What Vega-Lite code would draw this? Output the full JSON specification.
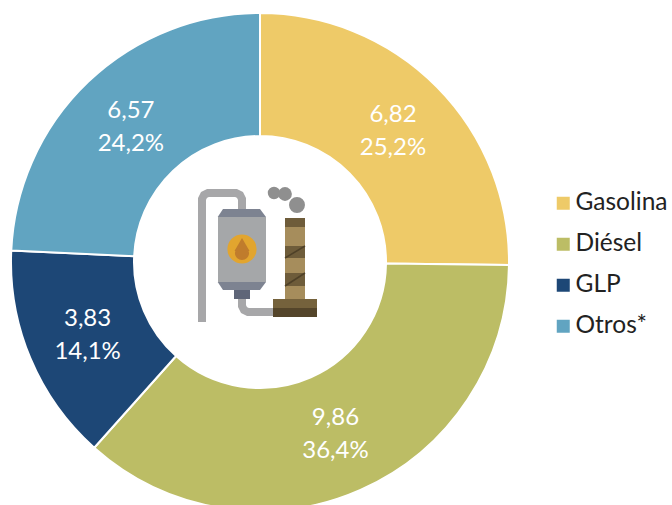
{"$schema":"https://vega.github.io/schema/vega-lite/v6.json","width":498,"height":498,"autosize":"none","padding":{"left":11,"top":13,"right":163,"bottom":0},"background":"white","config":{"view":{"stroke":null},"font":"Lato"},
"datasets":{"combustibles":[{"nombre":"Gasolina","orden":1,"valor":6.82,"etiqueta":"6,82\n25,2%"},{"nombre":"Diésel","orden":2,"valor":9.86,"etiqueta":"9,86\n36,4%"},{"nombre":"GLP","orden":3,"valor":3.83,"etiqueta":"3,83\n14,1%"},{"nombre":"Otros*","orden":4,"valor":6.57,"etiqueta":"6,57\n24,2%"}]},
"layer":[
{"data":{"name":"combustibles"},"mark":{"type":"arc","innerRadius":126,"outerRadius":249,"stroke":"white","strokeWidth":2},"encoding":{"theta":{"field":"valor","type":"quantitative","stack":true},"order":{"field":"orden"},"color":{"field":"nombre","type":"nominal","sort":["Gasolina","Diésel","GLP","Otros*"],"scale":{"domain":["Gasolina","Diésel","GLP","Otros*"],"range":["#eeca68","#bcbd65","#1d4776","#61a4c1"]},"legend":{"title":null,"orient":"none","legendX":540,"legendY":178,"symbolType":"square","symbolSize":169,"symbolStrokeWidth":0,"labelFontSize":24.5,"labelFont":"Lato","labelColor":"#222222","labelOffset":0,"rowPadding":16,"padding":0,"labelLimit":200}}}},
{"data":{"name":"combustibles"},"mark":{"type":"text","radius":187,"fontSize":24,"font":"Lato","lineBreak":"\n","lineHeight":33,"dy":-15.5,"color":"white"},"encoding":{"theta":{"field":"valor","type":"quantitative","stack":true},"order":{"field":"orden"},"detail":{"field":"nombre"},"text":{"field":"etiqueta"}}},
{"data":{"values":[{"parte":"a","x":202,"y":322,"o":1},{"parte":"a","x":202,"y":199,"o":2},{"parte":"a","x":204,"y":195,"o":3},{"parte":"a","x":208,"y":193,"o":4},{"parte":"a","x":236,"y":193,"o":5},{"parte":"a","x":240,"y":195,"o":6},{"parte":"a","x":242,"y":199,"o":7},{"parte":"a","x":242,"y":212,"o":8},{"parte":"b","x":242,"y":296,"o":1},{"parte":"b","x":242,"y":306,"o":2},{"parte":"b","x":244,"y":310,"o":3},{"parte":"b","x":248,"y":312,"o":4},{"parte":"b","x":275,"y":312,"o":5}]},"mark":{"type":"line","color":"#a7a7a9","strokeWidth":8},"encoding":{"x":{"field":"x","type":"quantitative","axis":null,"scale":{"domain":[11,509],"nice":false,"zero":false}},"y":{"field":"y","type":"quantitative","axis":null,"scale":{"domain":[511,13],"nice":false,"zero":false}},"detail":{"field":"parte"},"order":{"field":"o"}}},
{"data":{"values":[{"x":217.7,"y":217,"y2":217},{"x":223,"y":209,"y2":217},{"x":260,"y":209,"y2":217},{"x":266,"y":217,"y2":217}]},"mark":{"type":"area","color":"#7d8391"},"encoding":{"x":{"field":"x","type":"quantitative","axis":null},"y":{"field":"y","type":"quantitative","axis":null},"y2":{"field":"y2"}}},
{"data":{"values":[{"x":217.7,"y":282,"y2":282},{"x":223,"y":290,"y2":282},{"x":260,"y":290,"y2":282},{"x":266,"y":282,"y2":282}]},"mark":{"type":"area","color":"#7d8391"},"encoding":{"x":{"field":"x","type":"quantitative","axis":null},"y":{"field":"y","type":"quantitative","axis":null},"y2":{"field":"y2"}}},
{"data":{"values":[{"x":218,"x2":266,"y":217,"y2":282,"c":"#a5a7a9"},{"x":234,"x2":250,"y":290,"y2":299,"c":"#5f6678"},{"x":285,"x2":305,"y":218,"y2":299,"c":"#a68d5c"},{"x":285,"x2":305,"y":218,"y2":227,"c":"#6e5c3a"},{"x":285,"x2":305,"y":246,"y2":258,"c":"#6e5c3a"},{"x":285,"x2":305,"y":273,"y2":286,"c":"#6e5c3a"},{"x":273,"x2":317,"y":299,"y2":308,"c":"#75623c"},{"x":273,"x2":317,"y":308,"y2":317,"c":"#54452a"}]},"mark":{"type":"rect"},"encoding":{"x":{"field":"x","type":"quantitative","axis":null},"x2":{"field":"x2"},"y":{"field":"y","type":"quantitative","axis":null},"y2":{"field":"y2"},"fill":{"field":"c","type":"nominal","scale":null}}},
{"data":{"values":[{"x":285,"y":258,"x2":305,"y2":246,"p":"a"},{"x":285,"y":286,"x2":305,"y2":273,"p":"b"}]},"mark":{"type":"rule","color":"#4f4128","strokeWidth":1.5},"encoding":{"x":{"field":"x","type":"quantitative","axis":null},"x2":{"field":"x2"},"y":{"field":"y","type":"quantitative","axis":null},"y2":{"field":"y2"}}},
{"data":{"values":[{"x":242,"y":249,"s":855,"c":"#e2a52f"},{"x":242,"y":253,"s":200,"c":"#c07c2c"},{"x":274,"y":193,"s":154,"c":"#8f8f8f"},{"x":285,"y":194,"s":190,"c":"#8f8f8f"},{"x":297,"y":205,"s":254,"c":"#8f8f8f"}]},"mark":{"type":"circle","opacity":1},"encoding":{"x":{"field":"x","type":"quantitative","axis":null},"y":{"field":"y","type":"quantitative","axis":null},"size":{"field":"s","type":"quantitative","scale":null},"fill":{"field":"c","type":"nominal","scale":null}}},
{"data":{"values":[{"x":234.5,"y":251,"y2":251},{"x":242,"y":238,"y2":251},{"x":249.5,"y":251,"y2":251}]},"mark":{"type":"area","color":"#c07c2c"},"encoding":{"x":{"field":"x","type":"quantitative","axis":null},"y":{"field":"y","type":"quantitative","axis":null},"y2":{"field":"y2"}}}
],"resolve":{"scale":{"fill":"independent"}}}
